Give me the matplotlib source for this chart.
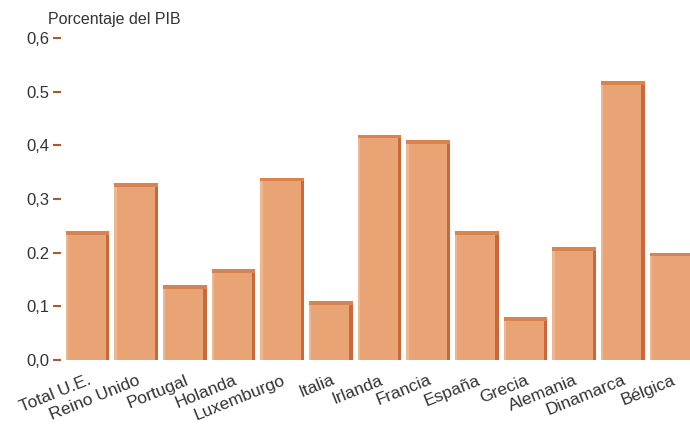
import numpy as np
import matplotlib.pyplot as plt

plt.rcParams['font.family'] = ['Liberation Sans', 'DejaVu Sans']

paises = ['Total U.E.', 'Reino Unido', 'Portugal', 'Holanda', 'Luxemburgo', 'Italia',
          'Irlanda', 'Francia', 'España', 'Grecia', 'Alemania', 'Dinamarca', 'Bélgica']
valores = [0.24, 0.33, 0.14, 0.17, 0.34, 0.11, 0.42, 0.41, 0.24, 0.08, 0.21, 0.52, 0.20]
ticks_y = [0.0, 0.1, 0.2, 0.3, 0.4, 0.5, 0.6]
etiquetas_y = ['0,0', '0,1', '0.2', '0,3', '0,4', '0.5', '0,6']

cara = '#E9A476'
lado = '#C8683C'
borde = '#D9834F'

fig = plt.figure(figsize=(6.9, 4.28), dpi=100)
ax = fig.add_axes([0.088, 0.159, 0.912, 0.752])

x = np.arange(len(paises))
v = np.array(valores)
ancho = 0.90

# cara frontal
ax.bar(x, v, width=ancho, color=cara, edgecolor='none', zorder=2)
# canto derecho oscuro
ax.bar(x + ancho / 2 - 0.035, v, width=0.07, color=lado, edgecolor='none', zorder=3)
# borde superior
ax.bar(x, np.full(len(v), 0.007), bottom=v - 0.007, width=ancho, color=borde,
       edgecolor='none', zorder=3)
# brillo a la izquierda
ax.bar(x - ancho / 2 + 0.025, v - 0.007, width=0.05, color='#F0B690', edgecolor='none', zorder=3)

ax.set_xlim(-0.55, 12.38)
ax.set_ylim(0, 0.6)
ax.set_yticks(ticks_y)
ax.set_yticklabels(etiquetas_y)
ax.tick_params(axis='y', length=6, width=1.5, color='#A85A30', pad=2,
               labelsize=12, labelcolor='#333333')

ax.set_xticks(x)
ax.set_xticklabels(paises, rotation=22, ha='right', rotation_mode='anchor',
                   fontsize=12.5, color='#333333')
ax.tick_params(axis='x', length=0, pad=9)

for s in ax.spines.values():
    s.set_visible(False)

fig.text(0.07, 0.945, 'Porcentaje del PIB', fontsize=11.5, color='#333333')

fig.savefig('out.png', dpi=100)
